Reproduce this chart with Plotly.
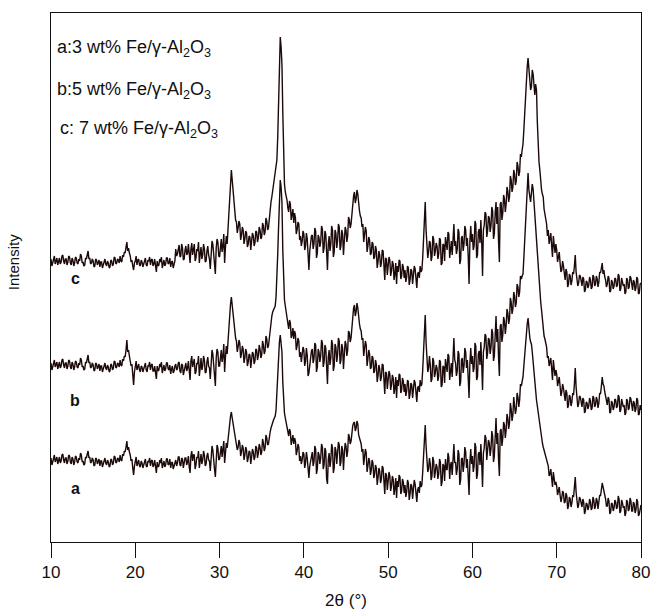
import numpy as np
import plotly.graph_objects as go

# Diffraction angle grid, 2θ in degrees (0.1° step)
two_theta = np.round(np.arange(10.0, 80.0001, 0.1), 1)

# Stacked XRD intensities (a.u., stacking offsets included); ten values per degree
sample_a = [
    84, 77, 80, 86, 87, 80, 82, 85, 78, 83,
    85, 79, 81, 87, 88, 82, 79, 84, 84, 78,
    81, 87, 86, 80, 78, 85, 83, 77, 80, 86,
    85, 80, 79, 84, 82, 89, 87, 80, 81, 77,
    78, 85, 84, 88, 91, 84, 85, 79, 80, 84,
    82, 76, 77, 84, 83, 78, 80, 83, 76, 81,
    81, 75, 78, 83, 84, 79, 77, 82, 80, 75,
    76, 83, 82, 77, 79, 86, 85, 79, 80, 84,
    83, 80, 87, 82, 81, 88, 86, 91, 90, 95,
    101, 92, 95, 90, 87, 81, 83, 74, 67, 76,
    80, 85, 76, 81, 82, 76, 75, 81, 79, 74,
    77, 82, 83, 76, 75, 81, 80, 84, 76, 81,
    82, 75, 77, 82, 74, 69, 80, 75, 76, 82,
    79, 84, 74, 78, 81, 75, 77, 83, 83, 77,
    78, 83, 74, 79, 80, 73, 76, 80, 82, 76,
    79, 85, 85, 77, 76, 84, 83, 74, 78, 84,
    84, 77, 80, 86, 75, 69, 86, 91, 81, 87,
    87, 73, 77, 85, 84, 91, 74, 80, 88, 78,
    82, 91, 87, 76, 78, 86, 89, 82, 81, 71,
    86, 96, 92, 79, 73, 65, 89, 97, 94, 82,
    83, 92, 96, 85, 91, 101, 79, 90, 99, 94,
    105, 112, 118, 126, 130, 124, 119, 113, 108, 104,
    101, 92, 95, 102, 99, 86, 90, 97, 94, 82,
    87, 95, 92, 80, 84, 91, 90, 78, 85, 93,
    90, 82, 85, 96, 94, 84, 89, 98, 95, 87,
    90, 103, 99, 91, 94, 107, 104, 97, 98, 106,
    110, 114, 117, 121, 122, 124, 126, 132, 150, 170,
    185, 200, 207, 200, 190, 160, 135, 129, 124, 119,
    114, 109, 106, 113, 110, 97, 101, 107, 98, 104,
    101, 87, 91, 98, 95, 81, 86, 78, 82, 90,
    88, 74, 79, 90, 84, 67, 64, 76, 81, 88,
    90, 76, 80, 96, 93, 68, 73, 90, 87, 78,
    84, 98, 95, 73, 77, 94, 91, 63, 58, 83,
    89, 75, 82, 98, 94, 69, 74, 95, 92, 78,
    86, 100, 97, 76, 80, 96, 92, 72, 88, 99,
    96, 85, 91, 108, 105, 98, 101, 111, 116, 119,
    120, 111, 114, 121, 118, 107, 104, 100, 98, 90,
    93, 77, 84, 93, 89, 70, 76, 84, 81, 67,
    72, 82, 79, 64, 68, 77, 74, 57, 64, 74,
    71, 59, 63, 76, 74, 55, 48, 69, 67, 52,
    59, 70, 66, 51, 56, 66, 63, 47, 54, 64,
    44, 61, 55, 67, 65, 48, 51, 63, 60, 49,
    57, 45, 50, 62, 59, 42, 48, 58, 56, 43,
    53, 62, 58, 46, 40, 52, 55, 49, 61, 55,
    57, 70, 88, 108, 117, 96, 80, 70, 73, 84,
    78, 62, 66, 85, 81, 64, 70, 78, 75, 63,
    68, 83, 80, 56, 60, 78, 76, 61, 83, 73,
    72, 89, 85, 63, 77, 80, 67, 81, 98, 79,
    80, 67, 73, 92, 88, 57, 62, 83, 84, 70,
    78, 95, 90, 74, 83, 65, 47, 80, 93, 78,
    86, 70, 76, 99, 95, 63, 68, 88, 90, 77,
    98, 79, 55, 89, 94, 107, 104, 82, 89, 102,
    99, 86, 93, 111, 106, 80, 86, 106, 124, 98,
    109, 82, 66, 111, 113, 96, 104, 120, 117, 104,
    112, 128, 124, 113, 119, 139, 133, 121, 127, 145,
    138, 128, 133, 149, 145, 135, 142, 158, 156, 160,
    165, 176, 188, 198, 208, 218, 224, 212, 205, 200,
    198, 190, 179, 172, 164, 153, 142, 136, 129, 124,
    118, 110, 104, 99, 95, 92, 89, 85, 82, 79,
    76, 66, 68, 73, 63, 55, 70, 61, 57, 60,
    56, 47, 51, 55, 47, 40, 44, 51, 49, 39,
    40, 49, 46, 33, 36, 45, 43, 35, 39, 47,
    45, 55, 65, 50, 40, 34, 37, 45, 43, 36,
    35, 43, 40, 28, 31, 39, 38, 32, 35, 43,
    40, 32, 34, 45, 42, 33, 36, 44, 41, 33,
    38, 47, 46, 52, 59, 55, 52, 47, 43, 36,
    36, 44, 41, 28, 30, 39, 38, 31, 34, 42,
    40, 33, 35, 46, 43, 29, 31, 42, 39, 34,
    36, 26, 29, 42, 40, 31, 33, 44, 41, 31,
    31, 40, 38, 29, 32, 43, 40, 26, 28, 36,
    37,
]

sample_b = [
    179, 172, 175, 181, 182, 175, 177, 180, 173, 178,
    180, 174, 176, 182, 183, 177, 174, 179, 179, 173,
    176, 182, 181, 175, 173, 180, 178, 172, 175, 181,
    180, 175, 174, 179, 177, 184, 182, 175, 176, 172,
    173, 180, 179, 183, 187, 179, 180, 174, 175, 179,
    177, 171, 172, 179, 178, 173, 175, 178, 171, 176,
    176, 170, 173, 178, 179, 174, 172, 177, 175, 170,
    171, 178, 177, 172, 174, 181, 180, 174, 175, 179,
    178, 175, 182, 177, 176, 183, 181, 186, 185, 192,
    202, 190, 192, 186, 182, 176, 178, 168, 157, 170,
    176, 181, 172, 177, 178, 172, 170, 176, 175, 170,
    173, 178, 179, 172, 170, 176, 176, 180, 172, 177,
    178, 171, 171, 176, 168, 163, 176, 171, 172, 178,
    175, 180, 169, 174, 177, 171, 173, 179, 179, 173,
    172, 177, 168, 173, 176, 169, 171, 176, 178, 172,
    173, 179, 180, 171, 169, 178, 177, 167, 171, 178,
    179, 171, 174, 181, 168, 162, 181, 186, 175, 181,
    183, 168, 170, 179, 178, 186, 166, 174, 184, 172,
    176, 186, 182, 169, 170, 180, 185, 176, 174, 163,
    181, 192, 188, 174, 164, 156, 184, 193, 190, 176,
    176, 187, 192, 180, 186, 198, 170, 185, 196, 188,
    203, 214, 225, 238, 245, 236, 228, 218, 210, 204,
    201, 190, 195, 202, 199, 184, 188, 196, 193, 179,
    184, 193, 190, 176, 180, 188, 187, 174, 182, 190,
    188, 178, 181, 193, 192, 182, 186, 197, 193, 184,
    187, 201, 197, 188, 191, 206, 203, 194, 196, 205,
    210, 220, 226, 230, 232, 234, 236, 245, 262, 288,
    315, 345, 362, 355, 340, 292, 250, 242, 236, 231,
    224, 217, 213, 222, 219, 204, 207, 214, 203, 211,
    208, 192, 196, 204, 201, 185, 190, 180, 186, 195,
    192, 176, 181, 194, 187, 166, 169, 177, 184, 191,
    193, 179, 183, 199, 197, 170, 175, 193, 190, 180,
    186, 202, 199, 175, 180, 197, 194, 163, 158, 185,
    192, 177, 184, 202, 198, 171, 176, 198, 195, 180,
    187, 204, 201, 178, 182, 198, 194, 173, 189, 201,
    198, 186, 192, 211, 209, 200, 204, 218, 228, 234,
    237, 226, 230, 239, 234, 222, 218, 213, 211, 202,
    204, 186, 192, 201, 197, 176, 183, 192, 188, 173,
    175, 186, 184, 169, 171, 182, 178, 160, 166, 177,
    173, 161, 165, 178, 177, 156, 148, 170, 169, 153,
    160, 171, 168, 152, 157, 167, 164, 148, 154, 165,
    144, 162, 156, 168, 167, 149, 152, 164, 161, 150,
    158, 146, 151, 162, 160, 143, 148, 159, 157, 144,
    153, 162, 159, 147, 140, 154, 156, 150, 162, 156,
    158, 172, 192, 215, 227, 200, 181, 170, 174, 186,
    177, 160, 163, 184, 181, 165, 169, 177, 174, 161,
    166, 182, 180, 155, 157, 176, 175, 159, 183, 172,
    170, 188, 186, 162, 176, 179, 165, 180, 204, 182,
    179, 166, 171, 191, 188, 156, 160, 182, 184, 169,
    176, 194, 190, 174, 182, 164, 144, 179, 194, 178,
    186, 170, 174, 199, 196, 162, 165, 188, 191, 177,
    200, 178, 152, 190, 195, 208, 206, 183, 189, 204,
    202, 188, 194, 213, 209, 181, 186, 207, 226, 200,
    213, 184, 166, 216, 218, 200, 207, 225, 221, 208,
    216, 233, 229, 218, 223, 244, 240, 228, 233, 250,
    246, 235, 239, 258, 255, 245, 250, 266, 263, 266,
    268, 284, 302, 320, 338, 356, 369, 352, 345, 340,
    349, 358, 353, 340, 332, 310, 295, 282, 270, 258,
    249, 240, 232, 222, 212, 206, 203, 199, 195, 184,
    186, 176, 179, 184, 173, 162, 182, 170, 166, 172,
    168, 156, 161, 165, 156, 146, 150, 158, 154, 143,
    141, 152, 149, 134, 137, 147, 145, 136, 140, 149,
    147, 158, 174, 155, 141, 135, 138, 146, 145, 137,
    135, 144, 142, 129, 131, 140, 139, 133, 136, 144,
    141, 132, 134, 146, 144, 135, 137, 145, 142, 134,
    139, 149, 148, 156, 165, 158, 156, 150, 145, 138,
    137, 145, 143, 129, 130, 141, 139, 132, 135, 143,
    142, 134, 136, 147, 145, 130, 132, 143, 140, 135,
    137, 127, 129, 143, 141, 132, 134, 145, 143, 133,
    131, 141, 139, 130, 133, 144, 142, 127, 128, 137,
    132,
]

sample_c = [
    283, 276, 279, 285, 286, 278, 281, 284, 277, 281,
    284, 278, 280, 286, 287, 281, 278, 283, 283, 277,
    280, 286, 285, 279, 277, 284, 282, 276, 279, 285,
    284, 279, 278, 283, 281, 288, 286, 279, 280, 276,
    277, 284, 283, 287, 291, 283, 284, 278, 279, 283,
    281, 275, 276, 283, 282, 277, 279, 282, 275, 280,
    280, 274, 277, 282, 283, 278, 276, 281, 279, 274,
    275, 282, 281, 276, 278, 285, 284, 278, 279, 283,
    282, 279, 286, 281, 280, 287, 285, 290, 289, 295,
    300, 291, 294, 289, 286, 280, 282, 276, 272, 279,
    281, 286, 277, 282, 283, 277, 276, 282, 280, 275,
    278, 283, 284, 277, 276, 282, 281, 285, 277, 282,
    283, 276, 278, 283, 275, 270, 281, 276, 277, 283,
    280, 285, 274, 279, 282, 276, 278, 284, 284, 278,
    279, 284, 275, 280, 281, 274, 277, 281, 293, 286,
    288, 296, 297, 285, 286, 298, 294, 282, 283, 292,
    296, 287, 289, 298, 285, 279, 293, 299, 287, 293,
    298, 281, 284, 293, 291, 300, 279, 288, 295, 283,
    287, 298, 293, 280, 281, 291, 296, 287, 283, 273,
    290, 301, 298, 284, 276, 268, 294, 303, 300, 286,
    285, 296, 303, 290, 296, 308, 279, 295, 306, 298,
    312, 326, 342, 360, 372, 362, 350, 338, 330, 322,
    320, 309, 314, 321, 318, 302, 307, 315, 312, 298,
    303, 311, 309, 295, 298, 306, 305, 292, 301, 309,
    306, 296, 299, 311, 310, 300, 304, 315, 312, 303,
    305, 319, 316, 307, 310, 324, 321, 312, 314, 326,
    328, 340, 345, 352, 358, 364, 368, 374, 382, 405,
    438, 480, 505, 495, 478, 430, 372, 358, 350, 347,
    342, 334, 330, 341, 338, 322, 326, 333, 319, 329,
    324, 308, 312, 320, 318, 302, 306, 296, 301, 311,
    308, 292, 296, 309, 303, 282, 272, 291, 299, 306,
    307, 293, 298, 314, 311, 284, 289, 307, 304, 295,
    300, 316, 313, 289, 294, 311, 308, 278, 272, 298,
    306, 291, 298, 316, 312, 285, 290, 312, 309, 294,
    301, 318, 315, 292, 296, 312, 308, 287, 303, 315,
    312, 300, 306, 325, 322, 314, 318, 331, 340, 346,
    350, 339, 343, 352, 348, 335, 331, 326, 324, 315,
    318, 300, 306, 315, 311, 290, 296, 305, 302, 287,
    289, 300, 298, 283, 285, 296, 292, 274, 280, 291,
    287, 275, 279, 292, 291, 270, 262, 284, 283, 267,
    274, 285, 282, 266, 271, 281, 278, 262, 268, 279,
    258, 276, 270, 282, 281, 263, 266, 278, 275, 264,
    272, 260, 265, 276, 274, 257, 262, 273, 271, 258,
    267, 276, 273, 261, 254, 268, 270, 264, 276, 270,
    272, 284, 305, 328, 340, 312, 296, 284, 290, 301,
    299, 281, 285, 306, 303, 286, 291, 299, 296, 283,
    288, 304, 302, 277, 279, 298, 297, 281, 305, 294,
    292, 310, 308, 284, 298, 301, 287, 302, 318, 296,
    301, 288, 293, 313, 310, 278, 282, 304, 306, 291,
    298, 316, 312, 296, 304, 286, 258, 301, 316, 300,
    308, 292, 296, 321, 318, 284, 287, 310, 313, 299,
    322, 300, 266, 312, 317, 330, 328, 305, 311, 326,
    324, 310, 316, 335, 331, 303, 308, 329, 340, 318,
    335, 300, 280, 338, 340, 322, 329, 347, 343, 330,
    338, 355, 351, 340, 345, 366, 362, 350, 355, 372,
    368, 357, 361, 380, 376, 366, 370, 388, 385, 392,
    398, 412, 430, 448, 462, 475, 484, 470, 466, 452,
    455, 472, 468, 450, 447, 458, 452, 420, 390, 380,
    372, 360, 352, 348, 345, 333, 328, 322, 318, 306,
    312, 298, 302, 309, 296, 285, 306, 294, 289, 298,
    292, 280, 285, 290, 279, 270, 272, 281, 276, 264,
    262, 273, 270, 255, 258, 268, 266, 257, 261, 270,
    268, 276, 287, 270, 262, 256, 259, 267, 266, 258,
    256, 265, 263, 250, 252, 261, 260, 254, 257, 265,
    262, 253, 255, 267, 265, 256, 258, 266, 263, 255,
    260, 270, 269, 274, 279, 268, 272, 265, 262, 255,
    258, 266, 264, 250, 251, 262, 260, 253, 256, 264,
    263, 255, 257, 268, 266, 251, 253, 264, 261, 256,
    258, 248, 250, 264, 262, 253, 255, 266, 264, 254,
    252, 262, 260, 251, 254, 265, 263, 248, 249, 258,
    259,
]

series_labels = ["a", "b", "c"]
legend_lines = [
    "a:3 wt% Fe/γ-Al<sub>2</sub>O<sub>3</sub>",
    "b:5 wt% Fe/γ-Al<sub>2</sub>O<sub>3</sub>",
    "c: 7 wt% Fe/γ-Al<sub>2</sub>O<sub>3</sub>",
]
x_ticks = [10, 20, 30, 40, 50, 60, 70, 80]

for arr in (sample_a, sample_b, sample_c):
    if len(arr) != len(two_theta):
        raise ValueError(f"series length {len(arr)} != {len(two_theta)}")

FONT = "Liberation Sans, Arial, Helvetica, sans-serif"
LINE = "#1c0909"

fig = go.Figure()
for name, ys in zip(series_labels, [sample_a, sample_b, sample_c]):
    fig.add_trace(go.Scatter(
        x=two_theta, y=ys, mode="lines", name=name,
        line=dict(color=LINE, width=1.4), showlegend=False,
    ))

# curve letters placed under each pattern
label_pos = {"c": 264, "b": 142, "a": 54}
for name in series_labels:
    fig.add_annotation(x=12.9, y=label_pos[name], xref="x", yref="y", text=f"<b>{name}</b>",
                       showarrow=False, font=dict(family=FONT, size=16, color="#111"))

# sample key in the upper-left corner
for txt, xp, yp in zip(legend_lines, [0.0068, 0.0068, 0.0119], [0.932, 0.853, 0.779]):
    fig.add_annotation(x=xp, y=yp, xref="paper", yref="paper", text=txt, showarrow=False,
                       xanchor="left", yanchor="middle",
                       font=dict(family=FONT, size=18, color="#111"))

fig.add_annotation(x=-0.0644, y=0.529, xref="paper", yref="paper", text="Intensity",
                   textangle=-90, showarrow=False, xanchor="center", yanchor="middle",
                   font=dict(family=FONT, size=15, color="#111"))

fig.update_layout(
    width=653, height=612,
    margin=dict(l=51, r=12, t=13, b=70),
    paper_bgcolor="white", plot_bgcolor="white",
    font=dict(family=FONT, color="#111"),
)
fig.update_xaxes(
    range=[10, 80], tickvals=x_ticks, ticks="outside", ticklen=15, tickwidth=1,
    tickcolor="#111", showline=True, linecolor="#111", linewidth=1, mirror=True,
    showgrid=False, zeroline=False, automargin=False,
    tickfont=dict(family=FONT, size=17, color="#111"),
    title=dict(text="2θ (°)", font=dict(family=FONT, size=17, color="#111"), standoff=12),
)
fig.update_yaxes(
    range=[0, 529], showticklabels=False, ticks="", showline=True, linecolor="#111",
    linewidth=1, mirror=True, showgrid=False, zeroline=False, automargin=False,
)

fig.write_html("out.html")
